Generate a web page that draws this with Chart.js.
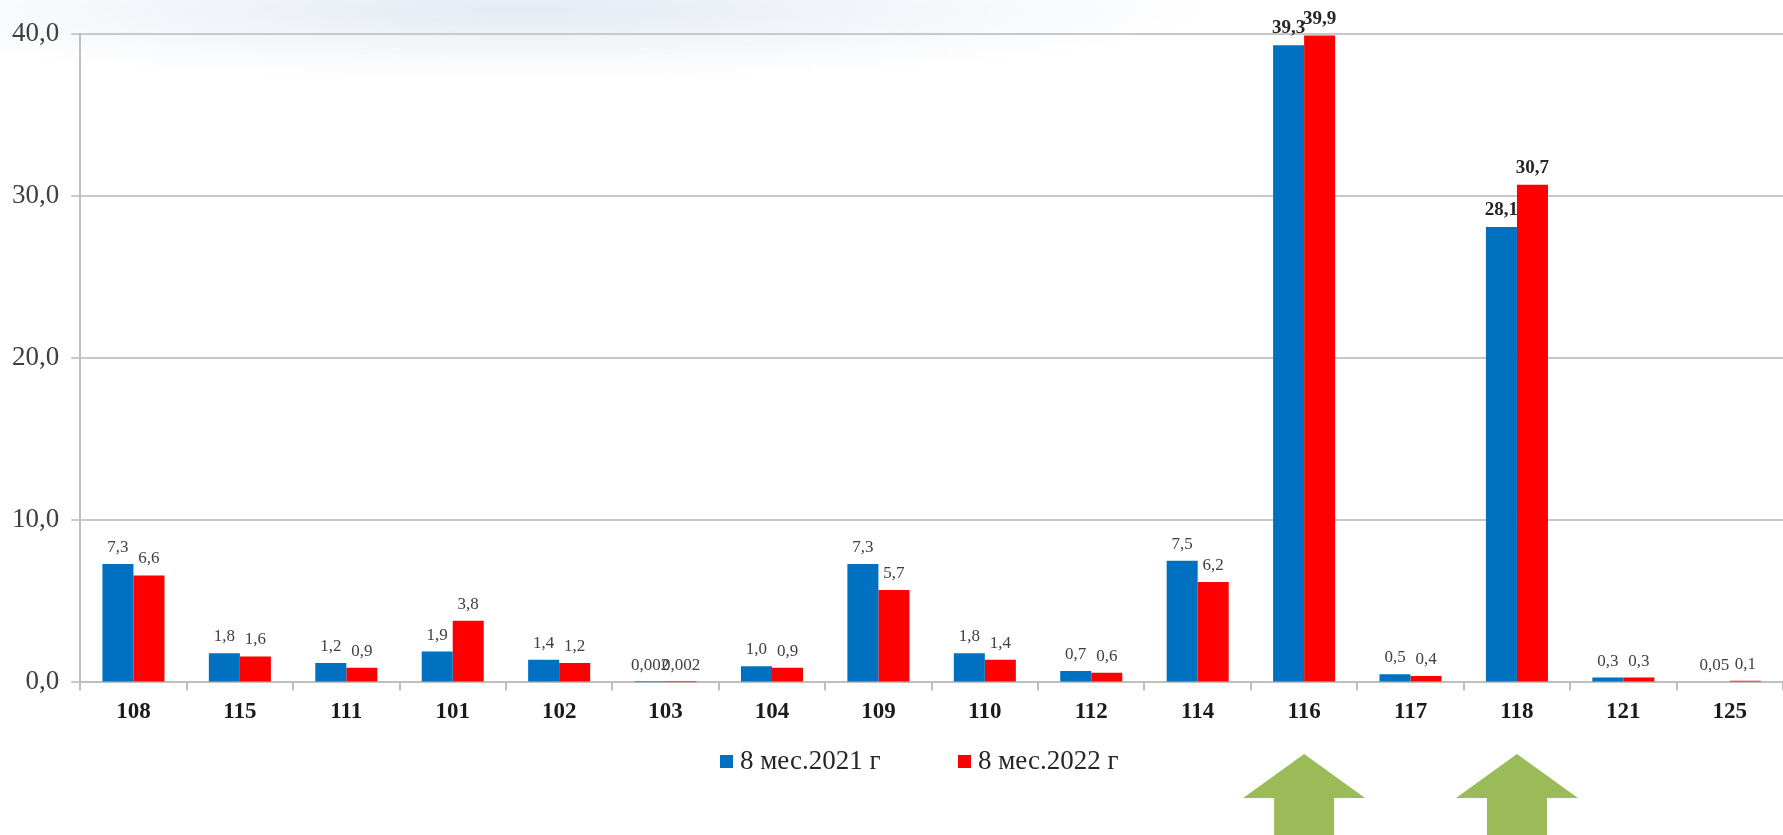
<!DOCTYPE html>
<html>
<head>
<meta charset="utf-8">
<script src="https://cdn.jsdelivr.net/npm/chart.js@4.4.1/dist/chart.umd.min.js"></script>
<style>
  html, body { margin: 0; padding: 0; }
  body {
    width: 1783px; height: 835px; overflow: hidden;
    background: radial-gradient(ellipse 700px 70px at 520px 10px, #e4eaf4 0%, #f1f4f9 45%, #ffffff 100%) #ffffff;
  }
  #wrap { position: relative; width: 1783px; height: 835px; }
</style>
</head>
<body>
<div id="wrap"><canvas id="barChart"></canvas></div>
<script>
// values
const categories = ['108', '115', '111', '101', '102', '103', '104', '109', '110', '112', '114', '116', '117', '118', '121', '125'];
const values2021 = [7.3, 1.8, 1.2, 1.9, 1.4, 0.002, 1.0, 7.3, 1.8, 0.7, 7.5, 39.3, 0.5, 28.1, 0.3, 0.05];
const values2022 = [6.6, 1.6, 0.9, 3.8, 1.2, 0.002, 0.9, 5.7, 1.4, 0.6, 6.2, 39.9, 0.4, 30.7, 0.3, 0.1];
const seriesNames = ['8 мес.2021 г', '8 мес.2022 г'];
const yTicks = [0, 10, 20, 30, 40];
const highlighted = ['116', '118'];

const BLUE = '#0070C0';
const RED = '#FF0000';
const GREEN = '#9BBB59';
const SERIF = '"Liberation Serif", "Times New Roman", serif';

function fmt(v, digits) {
  let s = digits != null ? v.toFixed(digits) : String(v);
  if (s.indexOf('.') < 0) s += '.0';
  return s.replace('.', ',');
}

// value labels above bars
const barLabels = {
  id: 'barLabels',
  afterDatasetsDraw(chart) {
    const ctx = chart.ctx;
    ctx.save();
    ctx.textAlign = 'center';
    ctx.textBaseline = 'alphabetic';
    chart.data.datasets.forEach((ds, di) => {
      chart.getDatasetMeta(di).data.forEach((bar, i) => {
        const big = highlighted.includes(categories[i]);
        ctx.font = (big ? 'bold 19px ' : '17px ') + SERIF;
        ctx.fillStyle = big ? '#262626' : '#404040';
        ctx.fillText(fmt(ds.data[i]), bar.x, bar.y - 12);
      });
    });
    ctx.restore();
  }
};

// legend under the axis and green arrows
const extras = {
  id: 'extras',
  afterDraw(chart) {
    const ctx = chart.ctx;
    const x = chart.scales.x;
    ctx.save();

    ctx.font = '27px ' + SERIF;
    ctx.textBaseline = 'middle';
    ctx.textAlign = 'left';
    const legendY = 761;
    let lx = 720;
    [BLUE, RED].forEach((c, i) => {
      ctx.fillStyle = c;
      ctx.fillRect(lx, legendY - 6, 13, 13);
      ctx.fillStyle = '#262626';
      ctx.fillText(seriesNames[i], lx + 20, legendY + 1);
      lx += 238;
    });

    ctx.fillStyle = GREEN;
    highlighted.forEach(cat => {
      const cx = x.getPixelForValue(categories.indexOf(cat));
      ctx.beginPath();
      ctx.moveTo(cx, 754);
      ctx.lineTo(cx + 61, 798);
      ctx.lineTo(cx + 30, 798);
      ctx.lineTo(cx + 30, 840);
      ctx.lineTo(cx - 30, 840);
      ctx.lineTo(cx - 30, 798);
      ctx.lineTo(cx - 61, 798);
      ctx.closePath();
      ctx.fill();
    });
    ctx.restore();
  }
};

new Chart(document.getElementById('barChart').getContext('2d'), {
  type: 'bar',
  data: {
    labels: categories,
    datasets: [
      { label: seriesNames[0], data: values2021, backgroundColor: BLUE },
      { label: seriesNames[1], data: values2022, backgroundColor: RED }
    ]
  },
  options: {
    responsive: true,
    maintainAspectRatio: false,
    animation: false,
    categoryPercentage: 0.583,
    barPercentage: 1.0,
    layout: { padding: { left: 0, right: 0, top: 34, bottom: 101 } },
    plugins: {
      legend: { display: false },
      tooltip: { enabled: false }
    },
    scales: {
      x: {
        grid: { drawOnChartArea: false, drawTicks: true, tickLength: 8, color: '#bfbfbf', lineWidth: 2 },
        border: { color: '#bfbfbf', width: 2 },
        ticks: { color: '#1a1a1a', font: { family: SERIF, size: 23, weight: 'bold' }, padding: 8 }
      },
      y: {
        min: 0,
        max: 40,
        afterBuildTicks: (scale) => { scale.ticks = yTicks.map(v => ({ value: v })); },
        grid: { color: '#c8c8c8', lineWidth: 2, tickLength: 9 },
        border: { color: '#bfbfbf', width: 2 },
        ticks: {
          color: '#404040',
          font: { family: SERIF, size: 27 },
          padding: 12,
          callback: v => fmt(v, 1)
        }
      }
    }
  },
  plugins: [barLabels, extras]
});
</script>
</body>
</html>
